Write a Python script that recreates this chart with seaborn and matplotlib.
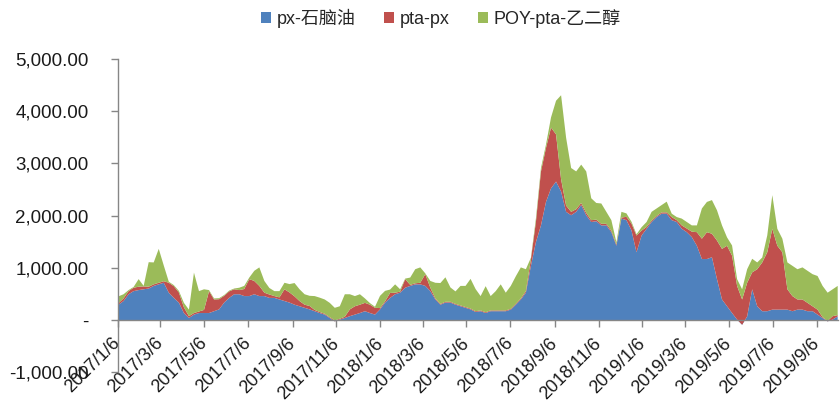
import numpy as np
import pandas as pd
import matplotlib
matplotlib.use("Agg")
import matplotlib.pyplot as plt
from matplotlib.patches import Patch
from matplotlib.ticker import FuncFormatter
import seaborn as sns

# Datos semanales (desde 2017/1/6)
series_names = ["px-石脑油", "pta-px", "POY-pta-乙二醇"]

px_naphtha = [300, 370, 500, 560, 580, 595, 610, 660, 690, 720,
              530, 430, 340, 140, 45, 110, 140, 140, 140, 175,
              210, 340, 430, 500, 500, 465, 465, 500, 465, 465,
              430, 430, 400, 370, 340, 300, 270, 240, 210, 175,
              140, 110, 45, -20, 15, 45, 80, 110, 140, 175,
              140, 110, 210, 340, 430, 500, 530, 625, 660, 690,
              690, 660, 560, 400, 300, 340, 340, 300, 270, 240,
              210, 160, 175, 140, 175, 175, 175, 175, 205, 300,
              400, 530, 1045, 1500, 1820, 2270, 2530, 2660, 2470, 2080,
              2015, 2080, 2210, 2015, 1885, 1900, 1820, 1820, 1690, 1430,
              1950, 1920, 1725, 1305, 1625, 1755, 1885, 1980, 2045, 2045,
              1920, 1885, 1755, 1690, 1595, 1430, 1175, 1175, 1210, 790,
              400, 270, 140, 15, -85, 75, 595, 270, 175, 175,
              205, 205, 205, 205, 175, 205, 205, 175, 175, 110,
              45, -20, 15, 75]

pta_px = [30, 50, 60, 65, 65, 55, 35, 30, 30, 30,
          190, 225, 195, 110, 35, 30, 30, 60, 420, 225,
          195, 130, 125, 95, 80, 135, 325, 255, 195, 65,
          65, 35, 40, 225, 195, 160, 100, 60, 65, 25,
          20, 15, 15, 20, 15, 25, 130, 160, 160, 160,
          160, 130, 25, 25, 95, 30, 20, 165, 20, 20,
          30, 225, 65, 20, 15, 15, 15, 15, 15, 15,
          15, 15, 15, 15, 15, 15, 15, 15, 15, 15,
          20, 30, 130, 390, 1035, 1035, 1165, 905, 235, 120,
          65, 50, 40, 45, 35, 30, 30, 30, 30, 25,
          20, 65, 130, 320, 95, 35, 25, 20, 25, 25,
          60, 35, 65, 70, 105, 260, 390, 515, 450, 740,
          970, 1160, 1100, 645, 485, 645, 325, 710, 935, 1130,
          1550, 1225, 1100, 390, 290, 195, 195, 160, 95, 95,
          15, 10, 65, 25]

poy_pta_meg = [130, 80, 20, 15, 145, 10, 470, 420, 650, 300,
               20, 20, 30, 85, 125, 775, 390, 395, 20, 20,
               20, 15, 15, 15, 45, 60, 30, 195, 355, 225,
               125, 95, 120, 125, 160, 255, 225, 200, 195, 265,
               275, 275, 275, 240, 240, 430, 290, 195, 200, 85,
               30, 20, 235, 200, 65, 160, 45, 10, 140, 270,
               295, 15, 130, 300, 400, 470, 275, 240, 375, 405,
               570, 425, 275, 500, 275, 370, 500, 340, 440, 530,
               595, 420, 25, 65, 65, 65, 195, 645, 1610, 1300,
               840, 725, 735, 795, 420, 320, 390, 230, 200, 40,
               110, 65, 35, 25, 65, 95, 170, 145, 140, 205,
               65, 60, 130, 125, 120, 130, 580, 580, 645, 580,
               450, 160, 195, 130, 195, 260, 260, 130, 95, 325,
               645, 325, 260, 515, 580, 580, 615, 615, 615, 645,
               600, 540, 515, 560]

dates = pd.date_range("2017-01-06", periods=len(px_naphtha), freq="7D")
tick_dates = pd.date_range("2017-01-06", "2019-09-06", freq=pd.DateOffset(months=2))
tick_labels = [f"{d.year}/{d.month}/{d.day}" for d in tick_dates]

colors = ["#4F81BD", "#C0504D", "#9BBB59"]

sns.set_theme(style="white")
plt.rcParams["font.family"] = ["Liberation Sans", "Noto Sans CJK SC", "DejaVu Sans"]

fig = plt.figure(figsize=(8.4, 4.07), dpi=100)
ax = fig.add_axes([0.1405, 0.086, 0.857, 0.769])

ax.stackplot(dates, px_naphtha, pta_px, poy_pta_meg, colors=colors,
             linewidth=0, labels=series_names)

ax.set_ylim(-1000, 5000)
ax.set_yticks(np.arange(-1000, 5001, 1000))
ax.set_xlim(pd.Timestamp("2017-01-06"), pd.Timestamp("2019-10-05"))
ax.set_xticks(tick_dates)
ax.set_xticklabels(tick_labels)

def fmt_y(v, pos):
    if v == 0:
        return "-"
    return f"{v:,.2f}"

ax.yaxis.set_major_formatter(FuncFormatter(fmt_y))

for s in ["top", "right"]:
    ax.spines[s].set_visible(False)
ax.spines["bottom"].set_position(("data", 0))
for s in ["left", "bottom"]:
    ax.spines[s].set_color("#868686")
    ax.spines[s].set_linewidth(1.0)

ax.tick_params(axis="y", direction="out", length=5, width=1, color="#868686",
               pad=16, labelsize=13.5, labelcolor="#1a1a1a", left=True)
ax.tick_params(axis="x", direction="out", length=5, width=1, color="#868686",
               pad=10, labelsize=13, labelcolor="#1a1a1a", bottom=True)
plt.setp(ax.get_xticklabels(), rotation=45, ha="right", va="center",
         rotation_mode="anchor")

handles = [Patch(facecolor=c, edgecolor="none") for c in colors]
fig.legend(handles, series_names, loc="center", bbox_to_anchor=(0.525, 0.955),
           ncol=3, frameon=False, fontsize=13, handlelength=0.55,
           handleheight=0.55, handletextpad=0.3, columnspacing=1.6)

fig.savefig("out.png", dpi=100, facecolor="white")
